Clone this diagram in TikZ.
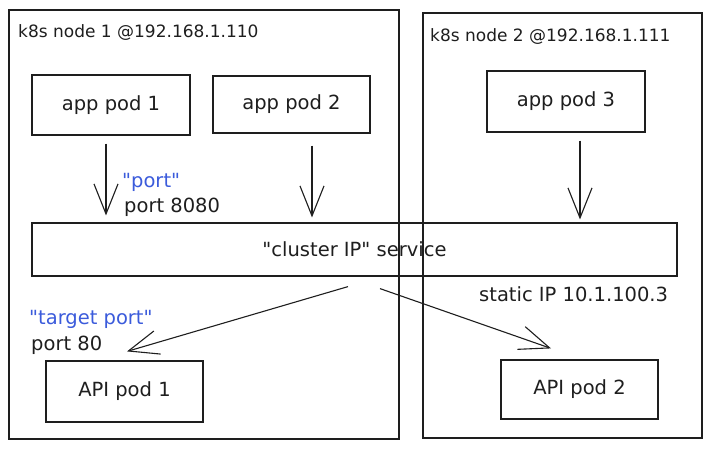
\documentclass[tikz,border=0pt]{standalone}
\usepackage{fontspec}
\setmainfont{DejaVu Sans}[Ligatures=TeXOff]
\usetikzlibrary{arrows.meta,calc}
\definecolor{ink}{HTML}{1E1E1E}
\definecolor{noteblue}{HTML}{3B5BDB}
\begin{document}
\begin{tikzpicture}[x=1pt,y=-1pt,
  every node/.style={font=\fontsize{19.5}{22}\selectfont, text=ink, inner sep=0pt},
  titletext/.style={font=\fontsize{17}{20}\selectfont},
  box/.style={draw=ink, line width=1.2pt},
  arr/.style={draw=ink, line width=1.1pt, -{Straight Barb[length=30pt,width=24pt,line width=1.1pt]}},
  note/.style={text=noteblue},
]
\useasboundingbox (0,0) rectangle (711,450);
% containers
\node[box, minimum width=390pt, minimum height=429pt] (n1) at (204,224.5) {};
\node[box, minimum width=279pt, minimum height=425pt] (n2) at (562.5,225.5) {};
\node[titletext, anchor=west] (t1) at (18,33) {k8s node 1 @192.168.1.110};
\node[titletext, anchor=west] (t2) at (430,37) {k8s node 2 @192.168.1.111};
% pods
\node[box, minimum width=158pt, minimum height=60pt] (ap1) at (111,105) {app pod 1};
\node[box, minimum width=157pt, minimum height=57pt] (ap2) at (291.5,104.5) {app pod 2};
\node[box, minimum width=158pt, minimum height=61pt] (ap3) at (566,101.5) {app pod 3};
\node[box, minimum width=645pt, minimum height=53pt] (svc) at (354.5,249.5) {"cluster IP" service};
\node[box, minimum width=157pt, minimum height=61pt] (api1) at (124.5,391.5) {API pod 1};
\node[box, minimum width=157pt, minimum height=59pt] (api2) at (579.5,389.5) {API pod 2};
% labels
\node[note, anchor=west] (lport) at (122,182) {"port"};
\node[anchor=west] (p8080) at (124,207) {port 8080};
\node[note, anchor=west] (ltarget) at (29,319) {"target port"};
\node[anchor=west] (p80) at (31,345) {port 80};
\node[anchor=west] (sip) at (479,294) {static IP 10.1.100.3};
% arrows
\draw[arr] ($(ap1.south)+(-5,8)$) -- ($(ap1.south |- svc.north)+(-5,-7)$);
\draw[arr] ($(ap2.south)+(20.5,12)$) -- ($(ap2.south |- svc.north)+(20.5,-5)$);
\draw[arr] ($(ap3.south)+(14,8)$) -- ($(ap3.south |- svc.north)+(14,-3)$);
\draw[arr] ($(svc.south)+(-6.5,10)$) -- ($(api1.north)+(2.5,-9)$);
\draw[arr] ($(svc.south)+(25.5,12)$) -- ($(api2.north)+(-28.5,-11)$);
\end{tikzpicture}
\end{document}
